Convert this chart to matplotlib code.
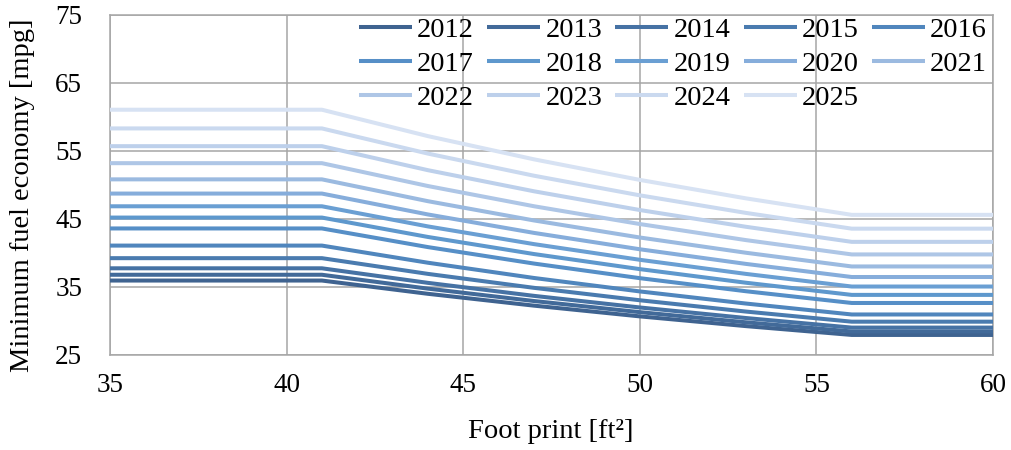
import matplotlib
matplotlib.use("Agg")
import matplotlib.pyplot as plt

plt.rcParams['font.family'] = ['Liberation Serif', 'DejaVu Serif']

# Footprint sample points [ft²]
footprint = [35, 41, 44, 47, 50, 53, 56, 60]

years = ["2012", "2013", "2014", "2015", "2016", "2017", "2018",
         "2019", "2020", "2021", "2022", "2023", "2024", "2025"]

# Minimum fuel economy [mpg] at each footprint point, one list per model year
mpg_2012 = [35.95, 35.95, 34.00, 32.26, 30.68, 29.25, 27.95, 27.95]
mpg_2013 = [36.80, 36.80, 34.76, 32.94, 31.30, 29.81, 28.46, 28.46]
mpg_2014 = [37.75, 37.75, 35.61, 33.70, 31.99, 30.44, 29.03, 29.03]
mpg_2015 = [39.24, 39.24, 36.93, 34.88, 33.05, 31.39, 29.90, 29.90]
mpg_2016 = [41.09, 41.09, 38.57, 36.33, 34.35, 32.57, 30.96, 30.96]
mpg_2017 = [43.61, 43.61, 40.87, 38.45, 36.30, 34.38, 32.65, 32.65]
mpg_2018 = [45.21, 45.21, 42.36, 39.85, 37.63, 35.63, 33.84, 33.84]
mpg_2019 = [46.87, 46.87, 43.91, 41.31, 39.00, 36.93, 35.07, 35.07]
mpg_2020 = [48.74, 48.74, 45.67, 42.96, 40.55, 38.40, 36.47, 36.47]
mpg_2021 = [50.83, 50.83, 47.62, 44.79, 42.28, 40.04, 38.02, 38.02]
mpg_2022 = [53.21, 53.21, 49.85, 46.88, 44.26, 41.90, 39.79, 39.79]
mpg_2023 = [55.71, 55.71, 52.18, 49.08, 46.32, 43.86, 41.64, 41.64]
mpg_2024 = [58.32, 58.32, 54.62, 51.37, 48.48, 45.90, 43.58, 43.58]
mpg_2025 = [61.07, 61.07, 57.19, 53.78, 50.75, 48.04, 45.61, 45.61]

series = [mpg_2012, mpg_2013, mpg_2014, mpg_2015, mpg_2016, mpg_2017, mpg_2018,
          mpg_2019, mpg_2020, mpg_2021, mpg_2022, mpg_2023, mpg_2024, mpg_2025]

x_ticks = [35, 40, 45, 50, 55, 60]
y_ticks = [25, 35, 45, 55, 65, 75]

# Monochromatic blue ramp, dark for early model years and light for later ones
colors = ["#3F6390", "#426A99", "#4672A4", "#4A7BAF", "#5086BD", "#568FC7",
          "#5E98CD", "#6A9FD3", "#86ADDB", "#9BBAE0", "#AEC6E6", "#BDD0EB",
          "#CAD9EF", "#D7E2F3"]

fig = plt.figure(figsize=(10.12, 4.5), dpi=100)
ax = fig.add_axes([110 / 1012, 1 - 355 / 450, (993 - 110) / 1012, (355 - 15) / 450])

for yr, vals, c in zip(years, series, colors):
    ax.plot(footprint, vals, color=c, lw=2.9, solid_capstyle='butt', label=yr, zorder=3)

ax.set_xlim(35, 60)
ax.set_ylim(25, 75)
ax.set_xticks(x_ticks)
ax.set_yticks(y_ticks)
ax.grid(True, color='#A6A6A6', lw=1.1, zorder=0)
ax.set_axisbelow(True)
for s in ax.spines.values():
    s.set_color('#A6A6A6')
    s.set_linewidth(1.1)
ax.tick_params(length=0, labelsize=19.5)
ax.tick_params(axis='y', pad=20)
ax.tick_params(axis='x', pad=13)

fig.text(551 / 1012, 1 - 432 / 450, "Foot print [ft²]", fontsize=20.5,
         ha='center', va='center')
fig.text(23 / 1012, 1 - 195 / 450, "Minimum fuel economy [mpg]", fontsize=20.5,
         ha='center', va='center', rotation=90)

# Legend filled column by column; ordering gives rows 2012-2016, 2017-2021, 2022-2025
handles, labels = ax.get_legend_handles_labels()
ncol = 5
order = []
for c in range(ncol):
    order += list(range(c, len(years), ncol))
leg = fig.legend([handles[i] for i in order], [labels[i] for i in order],
                 loc='upper left', bbox_to_anchor=(359 / 1012, 1 - 17 / 450),
                 ncol=ncol, frameon=False, fontsize=20.5, handlelength=1.86,
                 handletextpad=0.18, columnspacing=0.46, labelspacing=0.29,
                 borderpad=0, borderaxespad=0)
for h in leg.get_lines():
    h.set_linewidth(2.9)

fig.savefig("out.png", dpi=100)
